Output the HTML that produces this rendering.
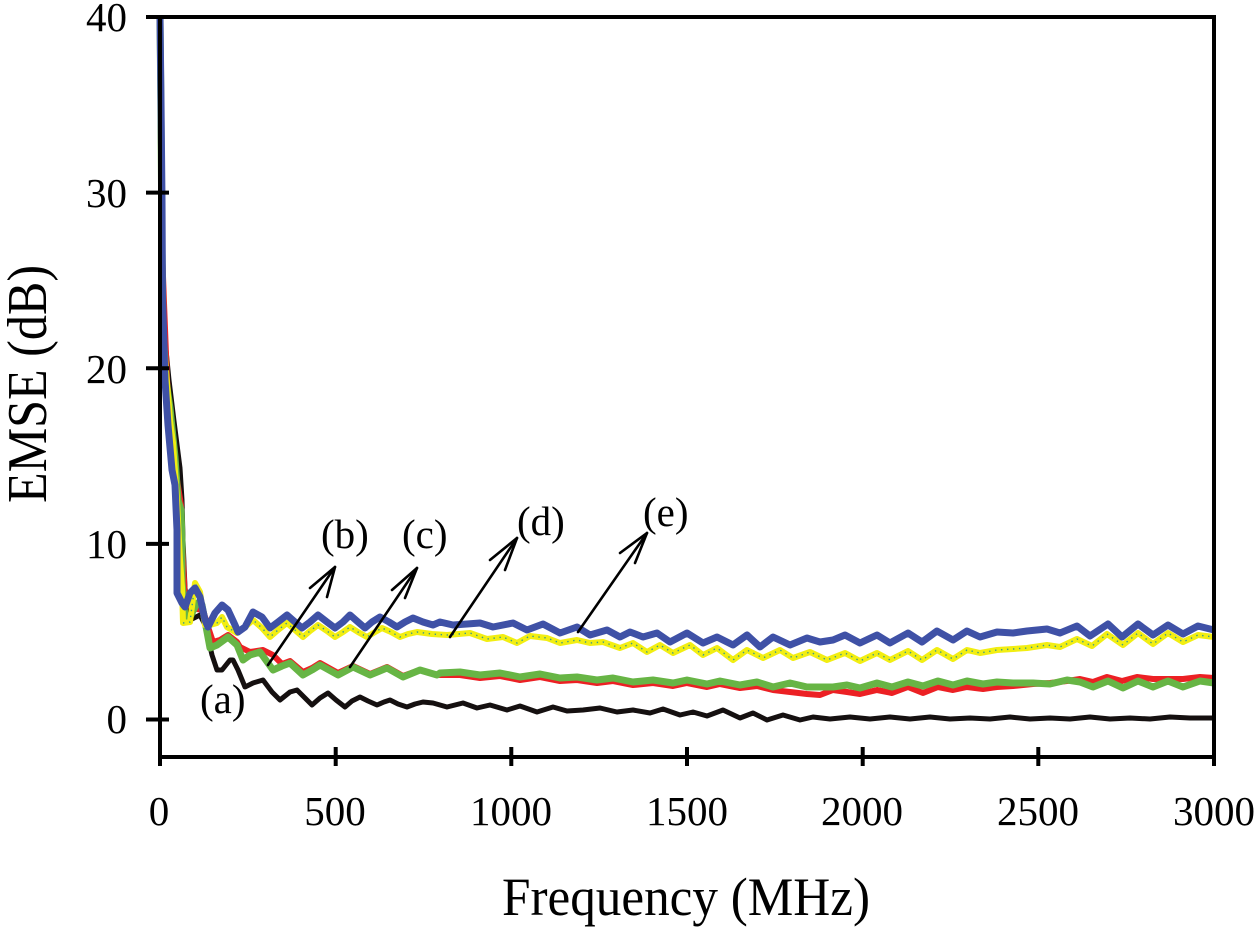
<!DOCTYPE html>
<html>
<head>
<meta charset="utf-8">
<style>
html,body{margin:0;padding:0;background:#fff;}
svg{display:block;}
text{font-family:"Liberation Serif","DejaVu Serif",serif;fill:#000;}
</style>
</head>
<body>
<svg width="1260" height="931" viewBox="0 0 1260 931" xmlns="http://www.w3.org/2000/svg">
<rect x="0" y="0" width="1260" height="931" fill="#fff"/>

<!-- series (a) black -->
<polyline fill="none" stroke="#151010" stroke-width="5" stroke-linejoin="round" points="160,17 161,150 163,300 166,350 169,380 174,421 180,468 182,500 183,540 185,588 190,620 200,615 205,625 212,655 217,670 222,670 230,660 233,660 238,670 245,687 253,683 263,680 272,692 280,700 290,692 297,690 305,698 312,705 320,698 328,693 336,700 345,707 352,701 360,697 368,701 377,705 384,702 390,700 398,704 407,707 415,704 423,702 433,703 447,707 463,703 477,708 490,705 507,710 520,706 537,712 553,707 567,711 583,710 600,708 617,712 633,710 650,713 663,709 680,715 693,712 707,716 723,710 740,718 753,713 767,720 783,715 800,720 813,717 830,719 850,717 870,719 890,717 910,719 930,717 950,719 970,718 990,719 1010,717 1030,719 1050,718 1070,719 1090,717 1110,719 1130,718 1150,719 1170,717 1190,718 1214,718"/>

<!-- series (b) red -->
<polyline fill="none" stroke="#ec2024" stroke-width="6" stroke-linejoin="round" points="160,17 161,150 162,250 164,303 167,380 172,440 177,480 181,505 183,560 185,600 192,608 203,610 208,627 213,642 220,640 228,635 237,642 240,647 250,652 263,650 273,655 282,664 290,661 303,672 312,668 320,663 338,673 353,666 370,674 387,667 403,676 420,670 437,675 460,675 480,678 500,676 520,680 540,677 560,681 577,680 597,683 613,681 633,685 653,683 673,686 687,683 707,687 720,684 740,688 757,686 773,690 790,692 807,694 820,695 833,690 847,692 860,694 877,690 892,693 908,687 923,693 938,687 953,690 967,687 983,689 997,687 1013,686 1033,684 1050,683 1067,681 1080,679 1093,682 1107,677 1122,681 1137,677 1153,679 1168,679 1183,679 1200,677 1214,678"/>

<!-- series (c) green -->
<polyline fill="none" stroke="#67b545" stroke-width="7" stroke-linejoin="round" points="160,17 161,120 162,250 163,328 166,380 170,408 175,457 178,500 181,510 182,540 182,582 185,617 190,617 197,603 202,605 210,648 217,645 228,637 237,645 243,660 250,655 260,652 273,670 282,666 290,663 303,675 312,670 320,665 338,675 353,667 370,675 387,668 403,677 420,670 437,675 440,673 460,672 480,675 500,673 520,677 540,674 560,678 577,677 597,680 613,678 633,682 653,680 673,683 687,680 707,684 720,681 740,685 757,682 773,687 790,683 807,687 820,687 833,687 847,685 860,688 877,683 892,687 908,682 923,686 938,681 953,685 967,681 983,684 997,682 1013,683 1033,683 1050,684 1067,680 1080,682 1093,687 1108,681 1123,688 1138,681 1153,687 1168,681 1183,687 1200,681 1214,683"/>

<!-- series (d) yellow -->
<polyline id="yl" fill="none" stroke="#f2ee12" stroke-width="6" stroke-linejoin="round" points="160,17 161,120 162,250 163,340 166,370 170,420 173,443 177,500 180,560 182,587 183,623 190,622 195,583 200,592 205,625 210,625 217,623 222,617 227,627 237,633 245,627 253,620 262,628 270,637 278,630 287,623 295,630 303,637 310,631 318,625 327,631 335,637 343,632 350,627 358,632 367,637 375,632 382,628 391,632 400,637 408,634 417,632 432,634 447,635 470,633 487,639 503,637 517,643 530,636 547,638 560,643 577,640 590,643 603,642 620,648 633,643 647,652 660,645 673,653 690,645 703,655 717,648 733,660 747,650 763,658 780,650 793,658 810,652 827,660 845,653 860,661 877,653 890,660 908,651 922,660 937,650 953,659 967,650 980,653 997,650 1013,649 1027,648 1047,645 1060,647 1077,639 1092,646 1107,634 1123,645 1138,633 1153,644 1168,633 1183,642 1198,635 1214,637"/>
<polyline fill="none" stroke="#3a9a8a" stroke-width="1.4" stroke-dasharray="1.4 4.6" points="183,623 190,622 195,583 200,592 205,625 210,625 217,623 222,617 227,627 237,633 245,627 253,620 262,628 270,637 278,630 287,623 295,630 303,637 310,631 318,625 327,631 335,637 343,632 350,627 358,632 367,637 375,632 382,628 391,632 400,637 408,634 417,632 432,634 447,635 470,633 487,639 503,637 517,643 530,636 547,638 560,643 577,640 590,643 603,642 620,648 633,643 647,652 660,645 673,653 690,645 703,655 717,648 733,660 747,650 763,658 780,650 793,658 810,652 827,660 845,653 860,661 877,653 890,660 908,651 922,660 937,650 953,659 967,650 980,653 997,650 1013,649 1027,648 1047,645 1060,647 1077,639 1092,646 1107,634 1123,645 1138,633 1153,644 1168,633 1183,642 1198,635 1214,637"/>

<!-- series (e) blue -->
<polyline fill="none" stroke="#3f51a6" stroke-width="7" stroke-linejoin="round" points="160,17 161,100 162,200 162.5,300 163,313 165,380 168,425 172,470 175,485 177,530 177,560 177,593 182,603 185,607 190,593 195,588 200,597 205,620 208,627 215,613 222,605 228,610 235,625 238,632 245,627 253,612 262,617 270,628 278,622 287,615 295,622 302,628 310,622 318,615 327,622 335,628 343,622 350,615 358,622 365,628 372,622 380,617 389,622 397,627 405,622 413,618 423,622 433,625 440,622 453,625 467,624 480,623 493,627 513,623 527,630 543,624 560,633 577,627 590,635 607,630 620,637 630,632 643,637 657,633 670,642 687,633 703,643 717,637 733,645 747,635 760,647 773,637 790,645 807,638 820,642 833,640 845,635 860,643 877,635 890,643 908,633 922,642 937,631 953,640 967,631 980,637 997,632 1013,633 1027,631 1047,629 1060,633 1077,626 1090,636 1108,624 1122,637 1138,624 1153,635 1168,625 1183,634 1198,626 1214,630"/>

<!-- axes frame -->
<g stroke="#000" stroke-width="4" fill="none" stroke-linecap="square">
  <line x1="160" y1="17" x2="160" y2="757"/>
  <line x1="160" y1="757" x2="1214" y2="757"/>
  <line x1="148" y1="17" x2="1214" y2="17"/>
  <line x1="1214" y1="17" x2="1214" y2="764"/>
  <!-- y ticks -->
  <line x1="148" y1="719.5" x2="167" y2="719.5"/>
  <line x1="148" y1="543.9" x2="167" y2="543.9"/>
  <line x1="148" y1="368.3" x2="167" y2="368.3"/>
  <line x1="148" y1="192.6" x2="167" y2="192.6"/>
  <!-- x ticks -->
  <line x1="160" y1="749" x2="160" y2="764"/>
  <line x1="335.7" y1="749" x2="335.7" y2="764"/>
  <line x1="511.3" y1="749" x2="511.3" y2="764"/>
  <line x1="687" y1="749" x2="687" y2="764"/>
  <line x1="862.7" y1="749" x2="862.7" y2="764"/>
  <line x1="1038.3" y1="749" x2="1038.3" y2="764"/>
</g>

<!-- y tick labels -->
<g font-size="41" text-anchor="end">
  <text x="127" y="733">0</text>
  <text x="127" y="558">10</text>
  <text x="127" y="383">20</text>
  <text x="127" y="207">30</text>
  <text x="127" y="31">40</text>
</g>

<!-- x tick labels -->
<g font-size="41" text-anchor="middle">
  <text x="159" y="825">0</text>
  <text x="335" y="825">500</text>
  <text x="511" y="825">1000</text>
  <text x="687" y="825">1500</text>
  <text x="862" y="825">2000</text>
  <text x="1038" y="825">2500</text>
  <text x="1214" y="825">3000</text>
</g>

<!-- axis titles -->
<text x="502" y="915" font-size="54" textLength="368" lengthAdjust="spacingAndGlyphs">Frequency (MHz)</text>
<text transform="translate(46,503) rotate(-90)" x="0" y="0" font-size="56" textLength="238" lengthAdjust="spacingAndGlyphs">EMSE (dB)</text>

<!-- annotations -->
<g font-size="41">
  <text x="200" y="713">(a)</text>
  <text x="321" y="548">(b)</text>
  <text x="402" y="548">(c)</text>
  <text x="517" y="535">(d)</text>
  <text x="643" y="526">(e)</text>
</g>
<g stroke="#000" stroke-width="2.6" fill="none" stroke-linecap="round" stroke-linejoin="round">
  <line x1="268" y1="665" x2="335" y2="567"/>
  <polyline points="310,588 335,567 327,597"/>
  <line x1="350" y1="667" x2="417" y2="568"/>
  <polyline points="392,590 417,568 405,598"/>
  <line x1="450" y1="637" x2="517" y2="538"/>
  <polyline points="490,560 517,538 505,570"/>
  <line x1="578" y1="632" x2="647" y2="533"/>
  <polyline points="620,553 647,533 635,563"/>
</g>
</svg>
</body>
</html>
